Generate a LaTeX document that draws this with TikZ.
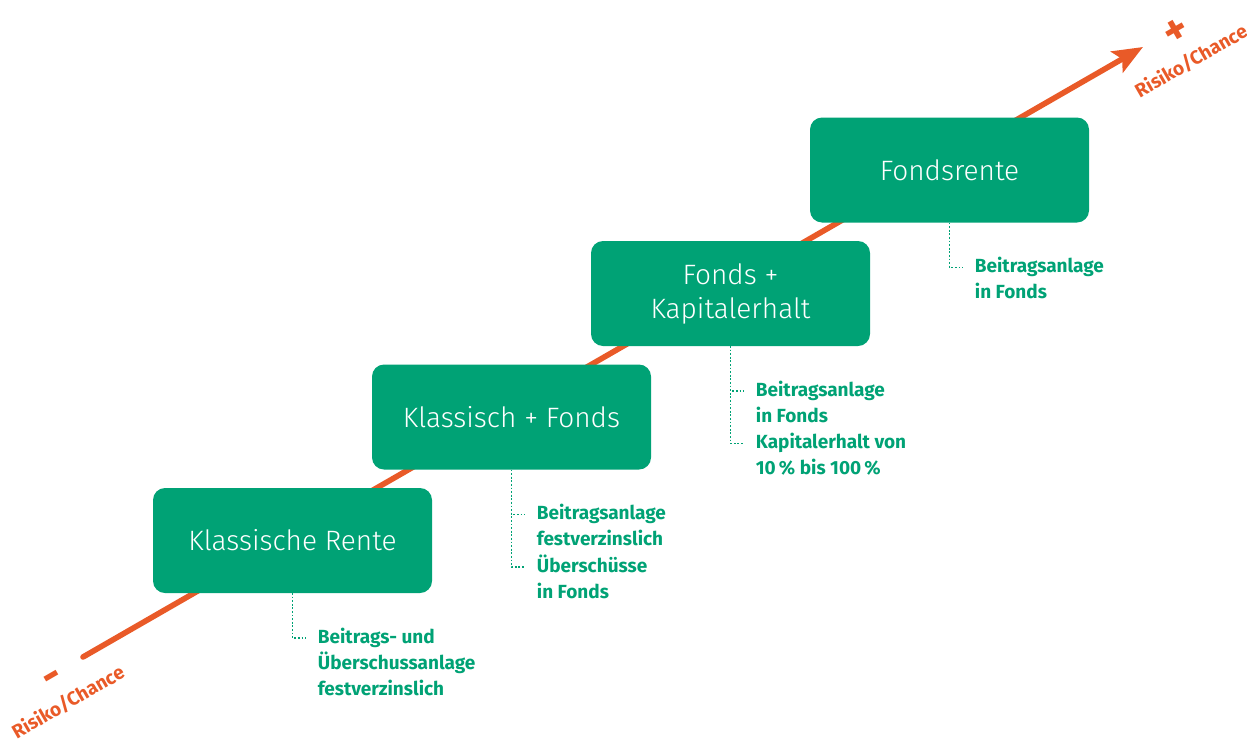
\documentclass[tikz,border=0pt]{standalone}
\usepackage{fontspec}
\setmainfont{Fira Sans}
\newfontfamily\boxfont{Fira Sans Light}
\usetikzlibrary{arrows.meta,positioning}
\definecolor{stepgreen}{HTML}{00A275}
\definecolor{riskorange}{HTML}{E95A28}

\begin{document}
\begin{tikzpicture}[x=0.5pt,y=-0.5pt,
		step node/.style={rectangle,rounded corners=6pt,outer sep=0pt,fill=stepgreen,text=white,minimum width=139.5pt,minimum height=52.5pt,align=center,font=\boxfont\fontsize{14}{17}\selectfont},
		note node/.style={anchor=base west,inner sep=0pt,text=stepgreen,font=\fontsize{9.5}{13.2}\selectfont\bfseries},
		risk node/.style={rotate=30,inner sep=0pt,text=riskorange,font=\fontsize{9.6}{12}\selectfont\bfseries},
		sign node/.style={rotate=30,inner sep=0pt,text height=0.6em,text depth=0pt,text=riskorange,font=\fontsize{22}{22}\selectfont\bfseries},
		tick line/.style={stepgreen,line width=0.9pt,dash pattern=on 0.9pt off 0.9pt}]
	\useasboundingbox (0,0) rectangle (1247,739);
	%
	% Risk/chance axis, drawn first so the boxes cover it.
	\coordinate (low) at (83,657);
	\coordinate (high) at (1143,47);
	\draw[riskorange,line width=2.8pt,line cap=round,-{Stealth[length=15pt,width=12pt,inset=3pt]}] (low) -- (high);
	\node[sign node] (200) at (55,683) {-};
	\node[sign node] (201) at (1180,37) {+};
	\node[risk node] (202) at (68,702) {Risiko/Chance};
	\node[risk node] (203) at (1191,61) {Risiko/Chance};
	%
	% The four products, one step up each.
	\node[step node] (0) at (292.5,540.5) {Klassische Rente};
	\node[step node] (1) [above right=9.25pt and -30pt of 0] {Klassisch + Fonds};
	\node[step node] (2) [above right=9.25pt and -30pt of 1] {Fonds +\\Kapitalerhalt};
	\node[step node] (3) [above right=9.25pt and -30pt of 2] {Fondsrente};
	%
	% Tick points under each box.
	\coordinate (10) at ([xshift=6.5pt,yshift=-22.5pt]0.south);
	\coordinate (20) at ([xshift=6.5pt,yshift=-22.5pt]1.south);
	\coordinate (21) at ([xshift=6.5pt,yshift=-48.75pt]1.south);
	\coordinate (30) at ([xshift=6.5pt,yshift=-22.5pt]2.south);
	\coordinate (31) at ([xshift=6.5pt,yshift=-48.75pt]2.south);
	\coordinate (40) at ([xshift=6.5pt,yshift=-22.5pt]3.south);
	%
	% Notes.
	\node[note node] (100) at ([xshift=6pt,yshift=-2.5pt]10) {\begin{tabular}[t]{@{}l@{}}Beitrags- und\\Überschussanlage\\festverzinslich\end{tabular}};
	\node[note node] (101) at ([xshift=6pt,yshift=-2.5pt]20) {\begin{tabular}[t]{@{}l@{}}Beitragsanlage\\festverzinslich\end{tabular}};
	\node[note node] (102) at ([xshift=6pt,yshift=-2.5pt]21) {\begin{tabular}[t]{@{}l@{}}Überschüsse\\in Fonds\end{tabular}};
	\node[note node] (103) at ([xshift=6pt,yshift=-2.5pt]30) {\begin{tabular}[t]{@{}l@{}}Beitragsanlage\\in Fonds\end{tabular}};
	\node[note node] (104) at ([xshift=6pt,yshift=-2.5pt]31) {\begin{tabular}[t]{@{}l@{}}Kapitalerhalt von\\10\,\% bis 100\,\%\end{tabular}};
	\node[note node] (105) at ([xshift=6pt,yshift=-2.5pt]40) {\begin{tabular}[t]{@{}l@{}}Beitragsanlage\\in Fonds\end{tabular}};
	%
	% Dotted leaders from box to note.
	\draw[tick line] (0.south) |- (10);
	\draw[tick line] (1.south) |- (20);
	\draw[tick line] (1.south) |- (21);
	\draw[tick line] (2.south) |- (30);
	\draw[tick line] (2.south) |- (31);
	\draw[tick line] (3.south) |- (40);
\end{tikzpicture}
\end{document}
